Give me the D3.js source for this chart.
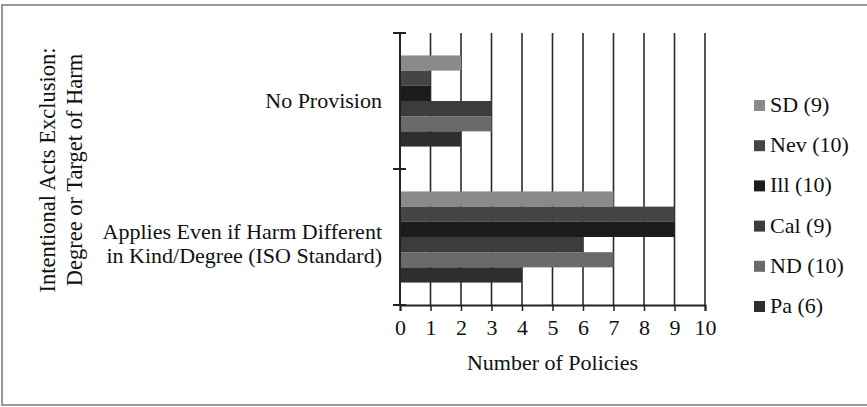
<!DOCTYPE html>
<html lang="en">
  <head>
    <meta charset="UTF-8" />
    <title>Intentional Acts Exclusion</title>
    <style>
      body {
        margin: 0;
        background: #fff;
      }
      #my_dataviz {
        width: 867px;
        height: 407px;
      }
      svg text {
        font-family: "Liberation Serif", "DejaVu Serif", serif;
        fill: #111;
      }
    </style>
  </head>
  <body>
    <div id="my_dataviz"></div>
    <script src="https://cdn.jsdelivr.net/npm/d3@7/dist/d3.min.js"></script>
    <script>
      // data
      var categories = [
        "No Provision",
        "Applies Even if Harm Different in Kind/Degree (ISO Standard)",
      ];
      var categoryLines = [
        ["No Provision"],
        ["Applies Even if Harm Different", "in Kind/Degree (ISO Standard)"],
      ];
      var series = ["SD (9)", "Nev (10)", "Ill (10)", "Cal (9)", "ND (10)", "Pa (6)"];
      var noProvision = [2, 1, 1, 3, 3, 2];
      var appliesEven = [7, 9, 9, 6, 7, 4];
      var xTicks = [0, 1, 2, 3, 4, 5, 6, 7, 8, 9, 10];
      var colors = ["#8a8a8a", "#454545", "#1c1c1c", "#3c3c3c", "#6a6a6a", "#2e2e2e"];

      var values = [noProvision, appliesEven];

      var width = 867;
      var height = 407;
      var serif = "'Liberation Serif', 'DejaVu Serif', serif";

      var svg = d3
        .select("#my_dataviz")
        .append("svg")
        .attr("width", width)
        .attr("height", height)
        .attr("font-family", serif);

      // scanned page frame (right edge is cut off)
      svg
        .append("rect")
        .attr("x", 2)
        .attr("y", 5)
        .attr("width", 900)
        .attr("height", 400)
        .attr("fill", "none")
        .attr("stroke", "#777")
        .attr("stroke-width", 1.5);

      var x = d3.scaleLinear().domain([0, 10]).range([400, 705]);

      var y = d3
        .scaleBand()
        .domain(categories)
        .range([33, 305])
        .paddingInner(0.33)
        .paddingOuter(0.165);

      var ySub = d3
        .scaleBand()
        .domain(series)
        .range([0, y.bandwidth()]);

      // vertical gridlines
      svg
        .append("g")
        .selectAll("line")
        .data(xTicks.slice(1))
        .enter()
        .append("line")
        .attr("x1", function (d) {
          return x(d);
        })
        .attr("x2", function (d) {
          return x(d);
        })
        .attr("y1", y.range()[0])
        .attr("y2", y.range()[1])
        .attr("stroke", "#2a2a2a")
        .attr("stroke-width", 1.6);

      // bars
      var groups = svg
        .append("g")
        .selectAll("g")
        .data(categories)
        .enter()
        .append("g")
        .attr("transform", function (d) {
          return "translate(0," + y(d) + ")";
        });

      groups
        .selectAll("rect")
        .data(function (d, i) {
          return series.map(function (s, j) {
            return { s: s, v: values[i][j], c: colors[j] };
          });
        })
        .enter()
        .append("rect")
        .attr("x", x(0))
        .attr("y", function (d) {
          return ySub(d.s);
        })
        .attr("width", function (d) {
          return x(d.v) - x(0);
        })
        .attr("height", ySub.bandwidth())
        .attr("fill", function (d) {
          return d.c;
        });

      // x axis
      var xAxis = svg
        .append("g")
        .attr("transform", "translate(0," + y.range()[1] + ")")
        .call(d3.axisBottom(x).tickValues(xTicks).tickSize(6).tickPadding(8));

      xAxis.attr("font-family", serif);
      xAxis.select(".domain").attr("stroke", "#222").attr("stroke-width", 2);
      xAxis.selectAll(".tick line").attr("stroke", "#222").attr("stroke-width", 1.5);
      xAxis
        .selectAll("text")
        .attr("font-size", 22)
        .attr("fill", "#111");

      // y axis: ticks sit on the band edges
      var edges = d3.range(categories.length + 1).map(function (i) {
        return y.range()[0] + i * y.step();
      });

      var yAxis = svg.append("g");
      yAxis
        .append("line")
        .attr("x1", x(0))
        .attr("x2", x(0))
        .attr("y1", y.range()[0])
        .attr("y2", y.range()[1])
        .attr("stroke", "#222")
        .attr("stroke-width", 2);
      yAxis
        .selectAll(".tick")
        .data(edges)
        .enter()
        .append("line")
        .attr("x1", x(0) - 7)
        .attr("x2", x(0) + 6)
        .attr("y1", function (d) {
          return d;
        })
        .attr("y2", function (d) {
          return d;
        })
        .attr("stroke", "#222")
        .attr("stroke-width", 2);

      // category labels
      categories.forEach(function (c, i) {
        var lines = categoryLines[i];
        var mid = y(c) + y.bandwidth() / 2;
        var lineH = 24;
        var t = svg
          .append("text")
          .attr("text-anchor", "end")
          .attr("font-size", 22);
        lines.forEach(function (l, k) {
          t.append("tspan")
            .attr("x", 382)
            .attr("y", mid + 7 + (k - (lines.length - 1) / 2) * lineH + (lines.length > 1 ? 7 : 0))
            .text(l);
        });
      });

      // axis titles
      svg
        .append("text")
        .attr("x", x(5))
        .attr("y", 370)
        .attr("text-anchor", "middle")
        .attr("font-size", 22)
        .text("Number of Policies");

      var yTitle = svg
        .append("text")
        .attr("transform", "translate(0,170) rotate(-90)")
        .attr("text-anchor", "middle")
        .attr("font-size", 22.5);
      yTitle.append("tspan").attr("x", 0).attr("y", 55).text("Intentional Acts Exclusion:");
      yTitle.append("tspan").attr("x", 0).attr("y", 82).text("Degree or Target of Harm");

      // legend
      var legend = svg
        .append("g")
        .selectAll("g")
        .data(series)
        .enter()
        .append("g")
        .attr("transform", function (d, i) {
          return "translate(754," + (105 + i * 40.2) + ")";
        });

      legend
        .append("rect")
        .attr("x", 0)
        .attr("y", -5)
        .attr("width", 11)
        .attr("height", 11)
        .attr("fill", function (d, i) {
          return colors[i];
        });

      legend
        .append("text")
        .attr("x", 16)
        .attr("y", 7)
        .attr("font-size", 22)
        .text(function (d) {
          return d;
        });
    </script>
  </body>
</html>
